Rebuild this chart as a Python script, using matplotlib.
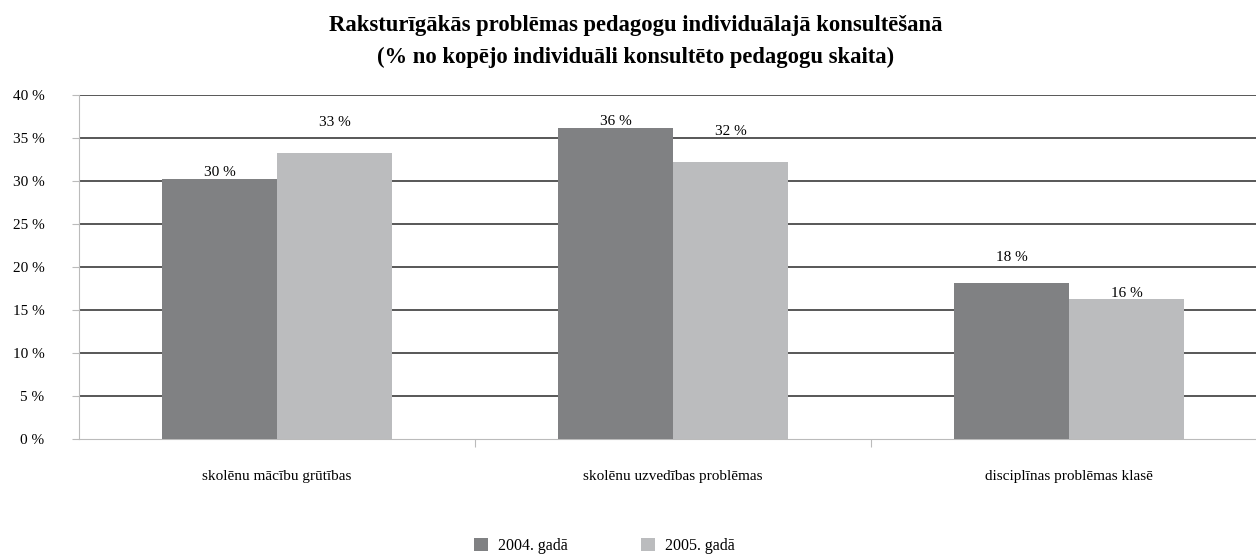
import matplotlib
matplotlib.use("Agg")
import matplotlib.pyplot as plt
import numpy as np

# dati
categories = ["skolēnu mācību grūtības", "skolēnu uzvedības problēmas", "disciplīnas problēmas klasē"]
series_names = ["2004. gadā", "2005. gadā"]
vals_2004 = [30.2, 36.2, 18.1]
vals_2005 = [33.3, 32.2, 16.3]
labels_2004 = ["30 %", "36 %", "18 %"]
labels_2005 = ["33 %", "32 %", "16 %"]
# etiķešu augstums (kā Excel tās novietojis)
label_y_2004 = [30.2, 36.2, 20.4]
label_y_2005 = [36.0, 35.0, 16.2]
yticks = [0, 5, 10, 15, 20, 25, 30, 35, 40]

plt.rcParams["font.family"] = ["Liberation Serif", "DejaVu Serif"]

W, H = 1256, 557
fig = plt.figure(figsize=(W / 100, H / 100), dpi=100)
ax = fig.add_axes([79 / W, 1 - 439 / H, (W - 79) / W, (439 - 95) / H])

c1, c2 = "#808183", "#bbbcbe"
x = np.arange(len(categories))
bw = 0.29
ax.bar(x - bw / 2, vals_2004, bw, color=c1, zorder=3, label=series_names[0])
ax.bar(x + bw / 2, vals_2005, bw, color=c2, zorder=3, label=series_names[1])

for i in range(len(categories)):
    ax.text(x[i] - bw / 2, label_y_2004[i], labels_2004[i], ha="center", va="bottom", fontsize=11)
    ax.text(x[i] + bw / 2, label_y_2005[i], labels_2005[i], ha="center", va="bottom", fontsize=11)

ax.set_ylim(0, 40)
ax.set_xlim(-0.5, 2.5 - 11 / 396)
ax.set_yticks(yticks)
ax.set_yticklabels([f"{t} %" for t in yticks], fontsize=11)
for t in yticks[1:]:
    ax.axhline(t, color="#2a2a2a", linewidth=1.1, zorder=1)

ax.set_xticks([0.5, 1.5])
ax.set_xticklabels([])
ax.tick_params(axis="x", length=6, color="#bbbbbb", direction="out")
ax.tick_params(axis="y", length=5, color="#bbbbbb", pad=20)
for i, c in enumerate(categories):
    ax.text(x[i], -4.4, c, ha="center", va="center", fontsize=11)

for s in ["top", "right"]:
    ax.spines[s].set_visible(False)
ax.spines["left"].set_color("#bbbbbb")
ax.spines["bottom"].set_color("#bbbbbb")

fig.text(636 / W, 1 - 25 / H, "Raksturīgākās problēmas pedagogu individuālajā konsultēšanā",
         ha="center", va="center", fontsize=16.3, fontweight="bold")
fig.text(636 / W, 1 - 57 / H, "(% no kopējo individuāli konsultēto pedagogu skaita)",
         ha="center", va="center", fontsize=16.3, fontweight="bold")

fig.legend(loc="center", bbox_to_anchor=(604 / W, 1 - 546 / H), ncol=2, frameon=False,
           fontsize=11.5, handlelength=0.9, handleheight=0.9, columnspacing=4.6, handletextpad=0.6)

fig.savefig("out.png", dpi=100)
